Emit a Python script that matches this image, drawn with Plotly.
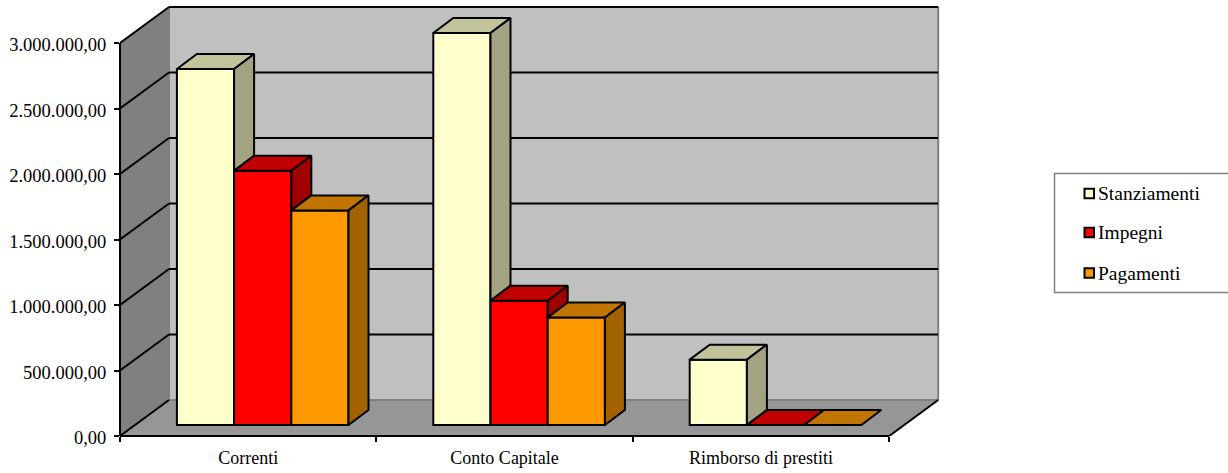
import plotly.graph_objects as go

# ---- data ----
categories = ["Correnti", "Conto Capitale", "Rimborso di prestiti"]
category_pos = [0.5, 1.5, 2.5]
series_names = ["Stanziamenti", "Impegni", "Pagamenti"]
stanziamenti = [2717000, 2992000, 499000]
impegni = [1941000, 949000, 0]
pagamenti = [1638000, 821000, 0]
y_ticks = [0, 500000, 1000000, 1500000, 2000000, 2500000, 3000000]
y_tick_labels = ["0,00", "500.000,00", "1.000.000,00", "1.500.000,00",
                 "2.000.000,00", "2.500.000,00", "3.000.000,00"]
front_colors = ["#FFFFCC", "#FF0000", "#FF9900"]
top_colors = ["#C2C29B", "#C00000", "#C27400"]
side_colors = ["#A3A382", "#A00000", "#A36200"]

# ---- geometry: one category is about 256 px, 1,000,000 is 131 px ----
W, H = 1228, 473
PX_X = 256.4
PX_Y = 131.0 / 1e6
ML, MR, MB = 120, 270, 37
x_max = (W - MR - ML) / PX_X
y_max = (H - MB) / PX_Y
wall_dx, wall_dy = 49 / PX_X, 36 / PX_Y
bar_dx, bar_dy = 20 / PX_X, 15 / PX_Y
bar_base = 11 / PX_Y
bar_w = 57.2 / PX_X
first_off = -71.3 / PX_X
x_end = 3.0
y_top = y_ticks[-1]
plot_w = W - ML - MR
plot_h = H - MB


def px(v):
    return (v - ML) / plot_w


def py(v):
    return (H - MB - v) / plot_h


def path(pts):
    return "M" + "L".join(f"{a},{b}" for a, b in pts) + "Z"


BLACK = "#000000"
GREY = "#808080"
shapes = [
    # back wall
    dict(type="path", path=path([(wall_dx, wall_dy), (x_end + wall_dx, wall_dy),
                                 (x_end + wall_dx, y_top + wall_dy), (wall_dx, y_top + wall_dy)]),
         fillcolor="#C0C0C0", line=dict(width=0), layer="below"),
    # left wall
    dict(type="path", path=path([(0, 0), (wall_dx, wall_dy), (wall_dx, y_top + wall_dy), (0, y_top)]),
         fillcolor="#808080", line=dict(width=0), layer="below"),
    # floor
    dict(type="path", path=path([(0, 0), (x_end, 0), (x_end + wall_dx, wall_dy), (wall_dx, wall_dy)]),
         fillcolor="#969696", line=dict(width=0), layer="below"),
]
for a, b, c, d in [
    (wall_dx, wall_dy, wall_dx, y_top + wall_dy),
    (wall_dx, wall_dy, x_end + wall_dx, wall_dy),
    (x_end + wall_dx, wall_dy, x_end + wall_dx, y_top + wall_dy),
]:
    shapes.append(dict(type="line", x0=a, y0=b, x1=c, y1=d, line=dict(color=GREY, width=2), layer="below"))
for t in y_ticks:
    if t > 0:
        shapes.append(dict(type="line", x0=wall_dx, y0=t + wall_dy, x1=x_end + wall_dx, y1=t + wall_dy,
                           line=dict(color=BLACK, width=2), layer="below"))
    shapes.append(dict(type="line", x0=0, y0=t, x1=wall_dx, y1=t + wall_dy,
                       line=dict(color=BLACK, width=2), layer="below"))
shapes.append(dict(type="line", x0=x_end, y0=0, x1=x_end + wall_dx, y1=wall_dy,
                   line=dict(color=BLACK, width=2), layer="below"))
# axis lines
shapes.append(dict(type="line", xref="x", yref="paper", x0=0, x1=x_end, y0=0, y1=0,
                   line=dict(color=BLACK, width=2)))
shapes.append(dict(type="line", xref="paper", yref="y", x0=0, x1=0, y0=0, y1=y_top,
                   line=dict(color=BLACK, width=2)))
# legend box
shapes.append(dict(type="rect", xref="paper", yref="paper",
                   x0=px(1054.5), x1=px(1240), y0=py(173.5), y1=py(292.5),
                   line=dict(color=GREY, width=1.5), fillcolor="white", layer="below"))

# legend entries: swatch tight against the label, as in the reference
FONT = "Liberation Serif"
legend_rows = [193.5, 232.5, 273]
annotations = []
for name, col, row in zip(series_names, front_colors, legend_rows):
    shapes.append(dict(type="rect", xref="paper", yref="paper",
                       x0=px(1084.5), x1=px(1094), y0=py(row - 4.75), y1=py(row + 4.75),
                       line=dict(color=BLACK, width=2), fillcolor=col))
    annotations.append(dict(xref="paper", yref="paper", x=px(1096), y=py(row), text=name,
                            showarrow=False, xanchor="left", yanchor="middle",
                            font=dict(family=FONT, size=19.5, color=BLACK)))

fig = go.Figure()
all_series = [stanziamenti, impegni, pagamenti]

for i, (name, vals) in enumerate(zip(series_names, all_series)):
    fig.add_trace(go.Bar(
        name=name, x=category_pos, y=vals, base=[bar_base] * len(vals),
        width=bar_w, offset=first_off + i * bar_w,
        marker=dict(color=front_colors[i], line=dict(color=BLACK, width=2)),
        showlegend=False,
    ))

for i, vals in enumerate(all_series):
    next_vals = all_series[i + 1] if i < 2 else [0] * len(vals)
    top_x, top_y, side_x, side_y = [], [], [], []
    for c, v, nv in zip(category_pos, vals, next_vals):
        x0 = c + first_off + i * bar_w
        x1 = x0 + bar_w
        yt = bar_base + v
        yb = bar_base + nv
        top_x += [x0, x1, x1 + bar_dx, x0 + bar_dx, x0, None]
        top_y += [yt, yt, yt + bar_dy, yt + bar_dy, yt, None]
        if v > nv:
            side_x += [x1, x1, x1 + bar_dx, x1 + bar_dx, x1, None]
            side_y += [yb, yt, yt + bar_dy, yb + bar_dy, yb, None]
    for xs, ys, col in [(top_x, top_y, top_colors[i]), (side_x, side_y, side_colors[i])]:
        fig.add_trace(go.Scatter(
            x=xs, y=ys, mode="lines", fill="toself", fillcolor=col,
            line=dict(color=BLACK, width=2), showlegend=False, hoverinfo="skip",
        ))

fig.update_layout(
    width=W, height=H, autosize=False,
    margin=dict(l=ML, r=MR, t=0, b=MB, pad=0),
    paper_bgcolor="white", plot_bgcolor="white",
    barmode="overlay", shapes=shapes, annotations=annotations, showlegend=False,
    font=dict(family=FONT, size=17, color="#000000"),
    xaxis=dict(range=[0, x_max], tickmode="array", tickvals=category_pos, ticktext=categories,
               ticks="", showgrid=False, zeroline=False, showline=False, ticklabelstandoff=9,
               tickfont=dict(family=FONT, size=18),
               minor=dict(tick0=0, dtick=1, ticks="outside", ticklen=5, tickwidth=1.5,
                          tickcolor=BLACK, showgrid=False)),
    yaxis=dict(range=[0, y_max], tickmode="array", tickvals=y_ticks, ticktext=y_tick_labels,
               ticks="outside", ticklen=5, tickwidth=1.5, tickcolor=BLACK, showgrid=False,
               zeroline=False, showline=False, ticklabelstandoff=4, ticklabelshift=2,
               tickfont=dict(family=FONT, size=18.5)),
)
fig.write_html("out.html", config=dict(displayModeBar=False),
               post_script="document.body.style.margin='0';document.body.style.overflow='hidden';")
